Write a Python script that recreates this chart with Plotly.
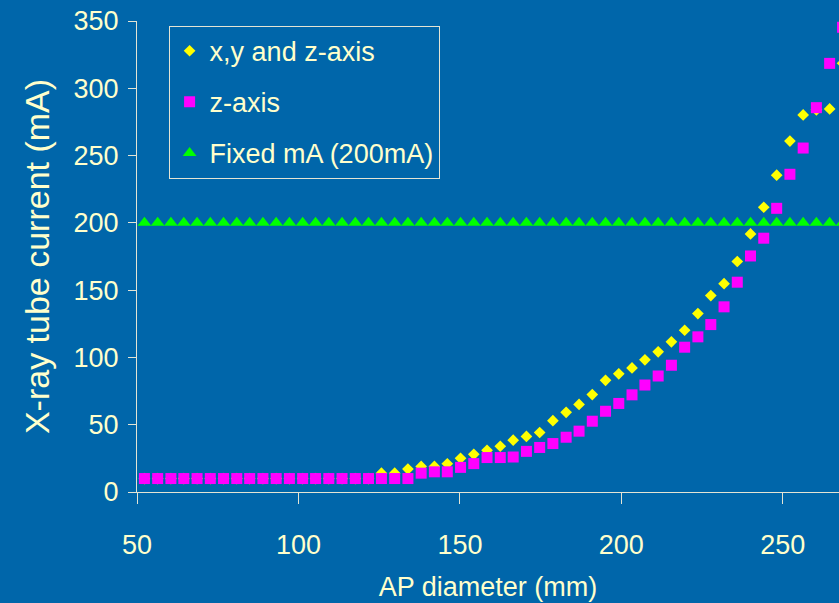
import plotly.graph_objects as go

# AP diameter (mm) of each measurement point
ap_diameter = [52.3, 56.4, 60.5, 64.5, 68.6, 72.7, 76.8, 80.9, 84.9, 89.0,
               93.1, 97.2, 101.3, 105.3, 109.4, 113.5, 117.6, 121.7, 125.7, 129.8,
               133.9, 138.0, 142.1, 146.1, 150.2, 154.3, 158.4, 162.5, 166.5, 170.6,
               174.7, 178.8, 182.9, 186.9, 191.0, 195.1, 199.2, 203.3, 207.3, 211.4,
               215.5, 219.6, 223.7, 227.7, 231.8, 235.9, 240.0, 244.1, 248.1, 252.2,
               256.3, 260.4, 264.5, 268.5]

xyz_axis = [10, 10, 10, 10, 10, 10, 10, 10, 10, 10,
            10, 10, 10, 10, 10, 10, 10, 10, 14, 14,
            17, 19, 19, 21, 25, 28, 31, 34, 38.5, 41.3,
            44.2, 53, 59.2, 65.1, 72.4, 83, 87.8, 92.2, 98.2, 104.2,
            111.6, 120.2, 132.6, 146, 154.8, 171.3, 191.8, 211.6, 235.4, 260.8,
            280.2, 284, 284.7, 318.6]

z_axis = [10, 10, 10, 10, 10, 10, 10, 10, 10, 10,
          10, 10, 10, 10, 10, 10, 10, 10, 10, 10,
          10, 14, 15, 15, 18.3, 21.1, 25.6, 25.6, 26, 30.2,
          33.1, 36, 40.7, 45.2, 52.6, 60, 65.8, 72.2, 79.5, 86.2,
          94.2, 107.6, 115.3, 124.4, 137.6, 155.9, 175.4, 188.6, 210.8, 236.1,
          255.6, 285.6, 318.5, 345.3]

fixed_ma = [200] * len(ap_diameter)

series_names = ["x,y and z-axis", "z-axis", "Fixed mA (200mA)"]
x_ticks = [50, 100, 150, 200, 250]
y_ticks = [0, 50, 100, 150, 200, 250, 300, 350]

BG = "#0066AA"
TXT = "#FFFFCC"
AXC = "#E4E4D4"
FAM = "Liberation Sans"

fig = go.Figure()
fig.add_trace(go.Scatter(x=ap_diameter, y=xyz_axis, mode="markers", name=series_names[0],
                         legendgroup="a",
                         marker=dict(symbol="diamond", size=9, color="#FFFF00", line=dict(width=0))))
fig.add_trace(go.Scatter(x=ap_diameter, y=z_axis, mode="markers", name=series_names[1],
                         legendgroup="b",
                         marker=dict(symbol="square", size=11, color="#FF00FF", line=dict(width=0))))
fig.add_trace(go.Scatter(x=ap_diameter, y=fixed_ma, mode="markers", name=series_names[2],
                         legendgroup="c",
                         marker=dict(symbol="triangle-up", size=12, color="#00FF00", line=dict(width=0))))

fig.update_layout(
    width=839, height=603,
    margin=dict(l=137, r=0, t=21, b=111),
    paper_bgcolor=BG, plot_bgcolor=BG,
    font=dict(family=FAM, color=TXT, size=27),
    showlegend=True,
    legend=dict(x=0.045, y=0.99, xanchor="left", yanchor="top",
                bgcolor=BG, bordercolor=AXC, borderwidth=1,
                font=dict(family=FAM, size=27, color=TXT),
                tracegroupgap=13, itemsizing="trace"),
)
fig.update_xaxes(range=[50, 267.4], tickvals=x_ticks, ticktext=[str(v) for v in x_ticks],
                 showgrid=False, zeroline=False, showline=True, linecolor=AXC, linewidth=1,
                 ticks="outside", ticklen=11, tickcolor=AXC, tickwidth=1,
                 ticklabelstandoff=18,
                 tickfont=dict(family=FAM, size=27, color=TXT),
                 title=dict(text="AP diameter (mm)", font=dict(family=FAM, size=27, color=TXT),
                            standoff=17))
fig.update_yaxes(range=[0, 350], tickvals=y_ticks, ticktext=[str(v) for v in y_ticks],
                 showgrid=False, zeroline=False, showline=True, linecolor=AXC, linewidth=1,
                 ticks="outside", ticklen=8, tickcolor=AXC, tickwidth=1,
                 ticklabelstandoff=4,
                 tickfont=dict(family=FAM, size=27, color=TXT),
                 title=dict(text="X-ray tube current (mA)", font=dict(family=FAM, size=34, color=TXT),
                            standoff=13))

fig.write_html("out.html")
